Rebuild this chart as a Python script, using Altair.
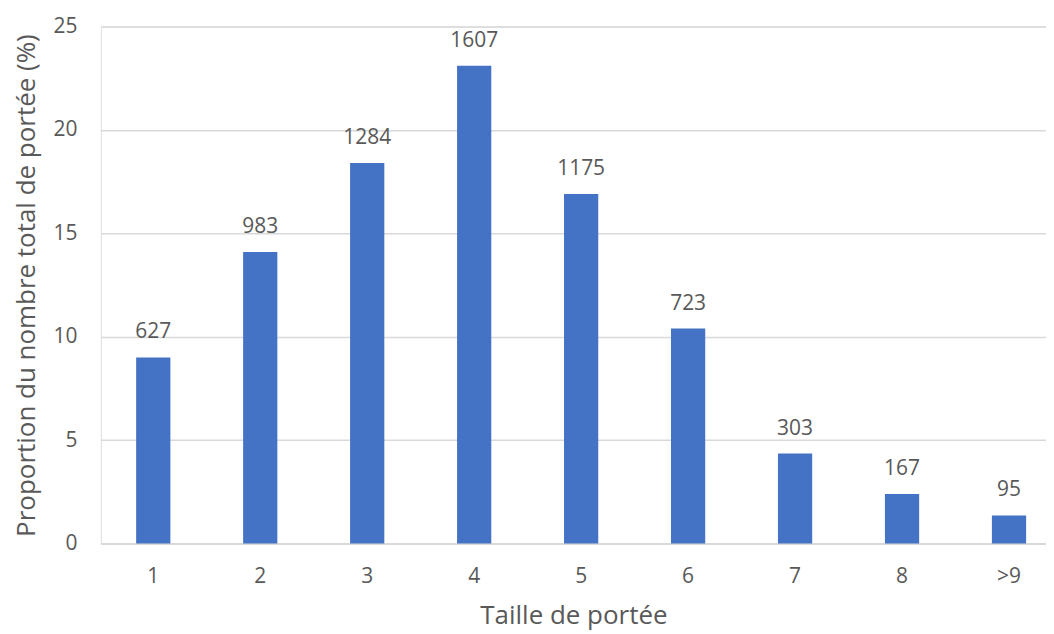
import altair as alt
import pandas as pd

categories = ["1", "2", "3", "4", "5", "6", "7", "8", ">9"]
proportions = [9.0, 14.1, 18.4, 23.1, 16.9, 10.4, 4.35, 2.4, 1.36]
counts = [627, 983, 1284, 1607, 1175, 723, 303, 167, 95]

df = pd.DataFrame({"cat": categories, "prop": proportions, "n": counts})

FONT = "Open Sans"
TXT = "#595959"

x = alt.X("cat:N", sort=categories, title="Taille de portée",
          scale=alt.Scale(paddingInner=0.68, paddingOuter=0.258, align=0.64),
          axis=alt.Axis(labelAngle=0, labelFont=FONT, labelFontSize=21, labelColor=TXT,
                        titleFont=FONT, titleFontSize=26, titleColor=TXT, titleFontWeight="normal",
                        titlePadding=16, labelPadding=22, ticks=False, domainColor="#d9d9d9",
                        domainWidth=2))
y = alt.Y("prop:Q", title="Proportion du nombre total de portée (%)",
          scale=alt.Scale(domain=[0, 25], nice=False),
          axis=alt.Axis(values=[0, 5, 10, 15, 20, 25], labelFont=FONT, labelFontSize=21,
                        labelColor=TXT, titleFont=FONT, titleFontSize=26, titleColor=TXT,
                        titleFontWeight="normal", titlePadding=13, labelPadding=24, ticks=False,
                        domain=False, gridColor="#d9d9d9", gridWidth=1.5))

base = alt.Chart(df).encode(x=x, y=y)
bars = base.mark_bar(color="#4472C4")
labels = base.mark_text(baseline="bottom", dy=-15, font=FONT, fontSize=21,
                        color=TXT).encode(text="n:Q")

chart = (bars + labels).properties(
    width=947, height=518,
    autosize=alt.AutoSizeParams(type="none"),
    padding={"left": 93, "top": 18, "right": 0, "bottom": 90},
).configure_view(stroke=None).configure(background="white")

chart.save("out.html", embed_options={"renderer": "svg", "actions": False})
